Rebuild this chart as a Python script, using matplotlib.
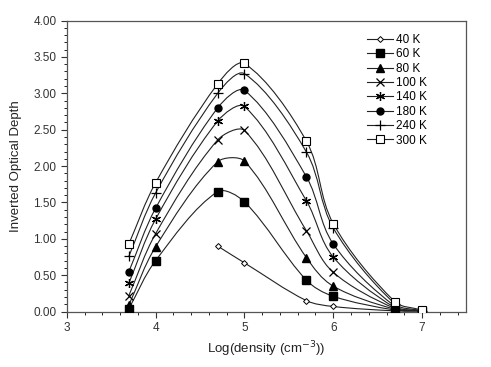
import numpy as np
import matplotlib.pyplot as plt
from matplotlib.path import Path
from matplotlib.patches import PathPatch
from matplotlib.lines import Line2D

plt.rcParams['font.family'] = ['Liberation Sans', 'DejaVu Sans']

log_density = [3.699, 4.0, 4.699, 5.0, 5.699, 6.0, 6.699, 7.0]
log_density_40 = [4.699, 5.0, 5.699, 6.0, 6.699, 7.0]

depth_40 = [0.90, 0.67, 0.15, 0.07, 0.01, 0.01]
depth_60 = [0.04, 0.70, 1.65, 1.51, 0.43, 0.21, 0.02, 0.01]
depth_80 = [0.09, 0.89, 2.06, 2.07, 0.74, 0.35, 0.03, 0.01]
depth_100 = [0.22, 1.07, 2.36, 2.49, 1.11, 0.54, 0.04, 0.01]
depth_140 = [0.39, 1.27, 2.62, 2.82, 1.52, 0.75, 0.05, 0.01]
depth_180 = [0.55, 1.42, 2.80, 3.04, 1.85, 0.93, 0.07, 0.01]
depth_240 = [0.76, 1.63, 3.00, 3.27, 2.19, 1.15, 0.10, 0.01]
depth_300 = [0.93, 1.77, 3.13, 3.41, 2.34, 1.21, 0.13, 0.02]

labels = ['40 K', '60 K', '80 K', '100 K', '140 K', '180 K', '240 K', '300 K']

series = [
    (log_density_40, depth_40, dict(marker='D', ms=3.0, mfc='white', mew=0.7)),
    (log_density, depth_60, dict(marker='s', ms=5.5, mfc='black')),
    (log_density, depth_80, dict(marker='^', ms=5.5, mfc='black')),
    (log_density, depth_100, dict(marker='x', ms=6, mew=0.9)),
    (log_density, depth_140, dict(marker=(6, 2, 0), ms=6.5, mew=0.9)),
    (log_density, depth_180, dict(marker='o', ms=5, mfc='black')),
    (log_density, depth_240, dict(marker='+', ms=7, mew=0.9)),
    (log_density, depth_300, dict(marker='s', ms=6, mfc='white', mew=0.8)),
]

XSPAN, YSPAN = 4.5, 4.0


def smooth_path(x, y):
    # smoothed line like excel, bezier segments through the points
    pts = np.column_stack([x, y])
    n = len(pts)
    scale = np.array([1 / XSPAN, 1 / YSPAN])

    def dist(a, b):
        return np.hypot(*((b - a) * scale))

    verts = [pts[0]]
    codes = [Path.MOVETO]
    for i in range(n - 1):
        p0 = pts[max(i - 1, 0)]
        p1 = pts[i]
        p2 = pts[i + 1]
        p3 = pts[min(i + 2, n - 1)]
        d01, d12, d23 = dist(p0, p1), dist(p1, p2), dist(p2, p3)
        t1 = (p2 - p0) * d12 / (d01 + d12) if d01 + d12 > 0 else 0
        t2 = (p3 - p1) * d12 / (d12 + d23) if d12 + d23 > 0 else 0
        c1 = p1 + t1 / 3.0
        c2 = p2 - t2 / 3.0
        verts += [c1, c2, p2]
        codes += [Path.CURVE4] * 3
    return Path(verts, codes)


fig = plt.figure(figsize=(4.91, 3.67), dpi=100)
ax = fig.add_axes([0.136, 0.151, 0.814, 0.793])

line_col = '#222222'
handles = []
for (x, y, mk), lab in zip(series, labels):
    ax.add_patch(PathPatch(smooth_path(x, y), fc='none', ec=line_col, lw=0.8))
    ax.plot(x, y, ls='none', color='black', mec='black', zorder=3, **mk)
    handles.append(Line2D([], [], color=line_col, lw=0.8, mec='black', **mk))

ax.set_xlim(3, 7.5)
ax.set_ylim(0, 4)
ax.set_xticks([3, 4, 5, 6, 7])
ax.set_xticks(np.arange(3, 7.5, 0.2), minor=True)
ax.set_yticks(np.arange(0, 4.01, 0.5))
ax.set_yticks(np.arange(0, 4.01, 0.1), minor=True)
ax.set_yticklabels(['%.2f' % v for v in np.arange(0, 4.01, 0.5)])
ax.tick_params(labelsize=8.5, colors='#333333', length=4, width=0.8)
ax.tick_params(which='minor', length=2.5, width=0.6)
for s in ax.spines.values():
    s.set_color('#555555')
    s.set_linewidth(0.9)

ax.set_xlabel('Log(density (cm$^{-3}$))', fontsize=9.5, color='#222222')
ax.set_ylabel('Inverted Optical Depth', fontsize=9.5, color='#222222', labelpad=8)

ax.legend(handles, labels, loc='upper left', bbox_to_anchor=(0.74, 0.97),
          frameon=False, fontsize=8.5, handlelength=2.2, handletextpad=0.25,
          labelspacing=0.2, borderaxespad=0)

fig.savefig('out.png', dpi=100)
